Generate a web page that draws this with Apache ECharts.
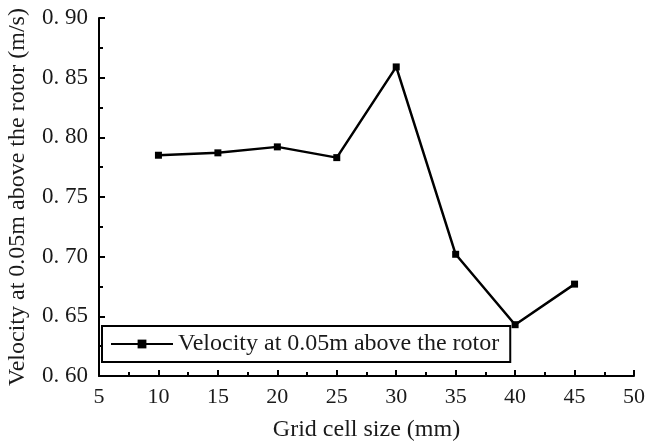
<!DOCTYPE html>
<html>
<head>
<meta charset="utf-8">
<script src="https://cdn.jsdelivr.net/npm/echarts@6/dist/echarts.min.js"></script>
<style>
  html, body { margin: 0; padding: 0; background: #fff; }
  #chart { width: 647px; height: 442px; }
</style>
</head>
<body>
<div id="chart"></div>
<script>
// Grid cell size (mm) and the velocity sampled 0.05 m above the rotor (m/s)
const gridSizes = [10, 15, 20, 25, 30, 35, 40, 45];
const velocities = [0.785, 0.787, 0.792, 0.783, 0.859, 0.702, 0.643, 0.677];
const seriesName = 'Velocity at 0.05m above the rotor';
const xTitle = 'Grid cell size (mm)';
const yTitle = 'Velocity at 0.05m above the rotor (m/s)';

const FONT = '"Liberation Serif", "Times New Roman", serif';
const INK = '#1a1a1a';

const chart = echarts.init(document.getElementById('chart'), null, { renderer: 'canvas' });

chart.setOption({
  backgroundColor: '#ffffff',
  animation: false,
  grid: { left: 99, right: 13, top: 18, bottom: 66, outerBoundsMode: 'none', containLabel: false },
  legend: {
    data: [seriesName],
    left: 102,
    top: 326,
    orient: 'horizontal',
    borderColor: '#000',
    borderWidth: 2,
    padding: [5, 11, 5, 8],
    itemWidth: 62,
    itemHeight: 11,
    itemGap: 0,
    textStyle: { fontFamily: FONT, fontSize: 24, color: INK, lineHeight: 26 }
  },
  xAxis: {
    type: 'value',
    min: 5,
    max: 50,
    interval: 5,
    name: xTitle,
    nameLocation: 'middle',
    nameGap: 42,
    nameTextStyle: { fontFamily: FONT, fontSize: 24, color: INK },
    axisLine: { show: true, onZero: false, lineStyle: { color: '#000', width: 2 } },
    axisTick: { show: true, inside: true, length: 6, lineStyle: { color: '#000', width: 2 } },
    minorTick: { show: true, splitNumber: 2, length: 4, lineStyle: { color: '#000', width: 2 } },
    axisLabel: { fontFamily: FONT, fontSize: 22, color: INK, margin: 10 },
    splitLine: { show: false }
  },
  yAxis: {
    type: 'value',
    min: 0.60,
    max: 0.90,
    interval: 0.05,
    name: yTitle,
    nameLocation: 'middle',
    nameGap: 69,
    nameRotate: 90,
    nameTextStyle: { fontFamily: FONT, fontSize: 24, color: INK },
    axisLine: { show: true, onZero: false, lineStyle: { color: '#000', width: 2 } },
    axisTick: { show: true, inside: true, length: 6, lineStyle: { color: '#000', width: 2 } },
    minorTick: { show: true, splitNumber: 2, length: 4, lineStyle: { color: '#000', width: 2 } },
    axisLabel: {
      fontFamily: FONT, fontSize: 23, color: INK, margin: 11,
      formatter: v => v.toFixed(2).replace('.', '. ')
    },
    splitLine: { show: false }
  },
  series: [{
    name: seriesName,
    type: 'line',
    data: gridSizes.map((x, i) => [x, velocities[i]]),
    symbol: 'rect',
    symbolSize: 7,
    showAllSymbol: true,
    lineStyle: { color: '#000', width: 2.5 },
    itemStyle: { color: '#000' }
  }]
});
</script>
</body>
</html>
